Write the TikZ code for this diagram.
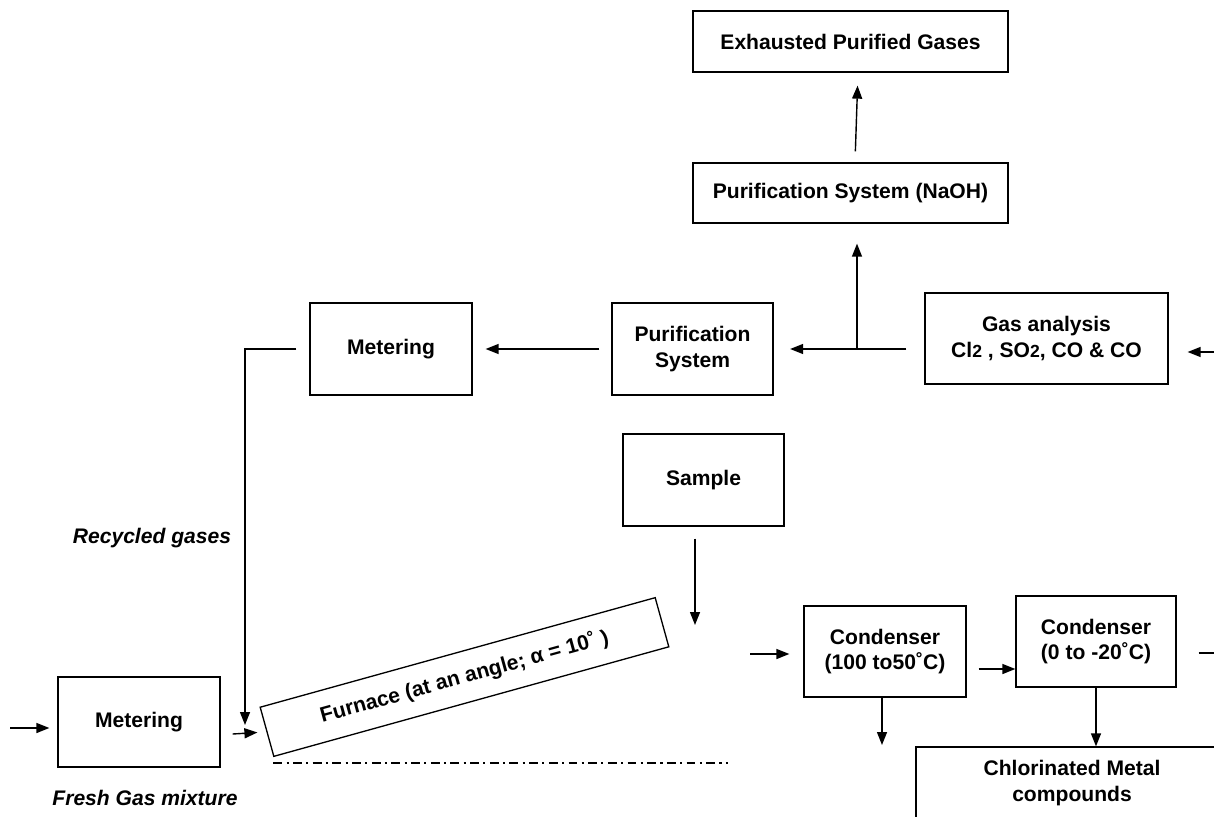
\documentclass[tikz,border=0pt]{standalone}
\usepackage{fontspec}
\setmainfont{Liberation Sans}
\usetikzlibrary{arrows.meta,calc}

\tikzset{
  box/.style={draw, line width=0.75pt, font=\fontsize{12}{14.5}\selectfont\bfseries, align=center, inner sep=0pt},
  arr/.style={-{Triangle[length=2.6mm,width=2mm]}, line width=0.8pt},
  lbl/.style={font=\fontsize{12}{14.5}\selectfont\bfseries\itshape},
}

\begin{document}
\begin{tikzpicture}[x=0.02cm,y=-0.02cm]
\useasboundingbox (0,0) rectangle (1214,816);
\clip (0,0) rectangle (1214,816);

\node[box, minimum width=6.3cm, minimum height=1.22cm] (exh) at (850.5,41.5) {Exhausted Purified Gases};
\node[box, minimum width=6.3cm, minimum height=1.2cm] (naoh) at (850.5,193) {Purification System (NaOH)};
\node[box, minimum width=3.24cm, minimum height=1.84cm] (meter1) at (391,349) {Metering};
\node[box, minimum width=3.22cm, minimum height=1.84cm] (purif) at (692.5,349) {Purification\\System};
\node[box, minimum width=4.86cm, minimum height=1.82cm] (gas) at (1046.5,338.5) {Gas analysis\\Cl{\fontsize{10}{12}\selectfont 2} , SO{\fontsize{10}{12}\selectfont 2}, CO \& CO};
\node[box, minimum width=3.22cm, minimum height=1.84cm] (sample) at (703.5,480) {Sample};
\node[box, minimum width=8.2cm, minimum height=1.02cm, rotate=15.5] (furn) at (464.5,677) {Furnace (at an angle; α = 10˚ )};
\node[box, minimum width=3.24cm, minimum height=1.8cm] (meter2) at (139,722) {Metering};
\node[box, minimum width=3.24cm, minimum height=1.82cm] (cond1) at (885,651.5) {Condenser\\(100 to50˚C)};
\node[box, minimum width=3.2cm, minimum height=1.82cm] (cond2) at (1096,641.5) {Condenser\\(0 to -20˚C)};
\node[box, minimum width=6.24cm, minimum height=1.44cm] (chl) at (1072,783) {Chlorinated Metal\\compounds};

\coordinate (tee) at (857,349);
\draw[arr, shorten <=0.36cm, shorten >=0.33cm] (gas.west |- tee) -- (purif.east |- tee);
\draw[arr, shorten >=0.4cm] (tee) -- (tee |- naoh.south);
\draw[arr, shorten <=0.22cm, shorten >=0.26cm] ([xshift=0.09cm]naoh.north) -- ([xshift=0.15cm]exh.south);
\draw[arr, shorten <=0.24cm, shorten >=0.26cm] (purif.west) -- (meter1.east);
\coordinate (inR) at (1214,352);
\draw[arr, shorten >=0.38cm] (inR) -- (gas.east |- inR);

\coordinate (rec) at (245,725);
\draw[arr, shorten <=0.26cm] (meter1.west) -| (rec);
\node[lbl] (reclbl) at (152,538) {Recycled gases};

\coordinate (inL) at (10,728);
\draw[arr, shorten >=0.16cm] (inL) -- (meter2.west |- inL);
\draw[arr, shorten >=0.18cm] ($(meter2.east)+(12,12)$) -- (furn.west);
\node[lbl] (fresh) at (145,798) {Fresh Gas mixture};

\coordinate (base) at (728,763);
\draw[dash pattern=on 5pt off 2.5pt on 1.2pt off 2.5pt, line width=0.6pt] (furn.south west |- base) -- (base);

\coordinate (sdrop) at (695,625);
\draw[arr, shorten <=0.24cm] (sample.south -| sdrop) -- (sdrop);

\coordinate (c1in) at (750,654);
\draw[arr, shorten >=0.28cm] (c1in) -- (cond1.west |- c1in);
\coordinate (c12) at (978,669);
\draw[arr, shorten <=0.24cm] (cond1.east |- c12) -- (cond2.west |- c12);
\coordinate (c2out) at (1214,653);
\draw[line width=0.8pt, shorten <=0.44cm] (cond2.east |- c2out) -- (c2out);
\coordinate (c1drop) at (882,745);
\draw[arr] (cond1.south -| c1drop) -- (c1drop);
\draw[arr] (cond2.south) -- (chl.north -| cond2.south);
\end{tikzpicture}
\end{document}
